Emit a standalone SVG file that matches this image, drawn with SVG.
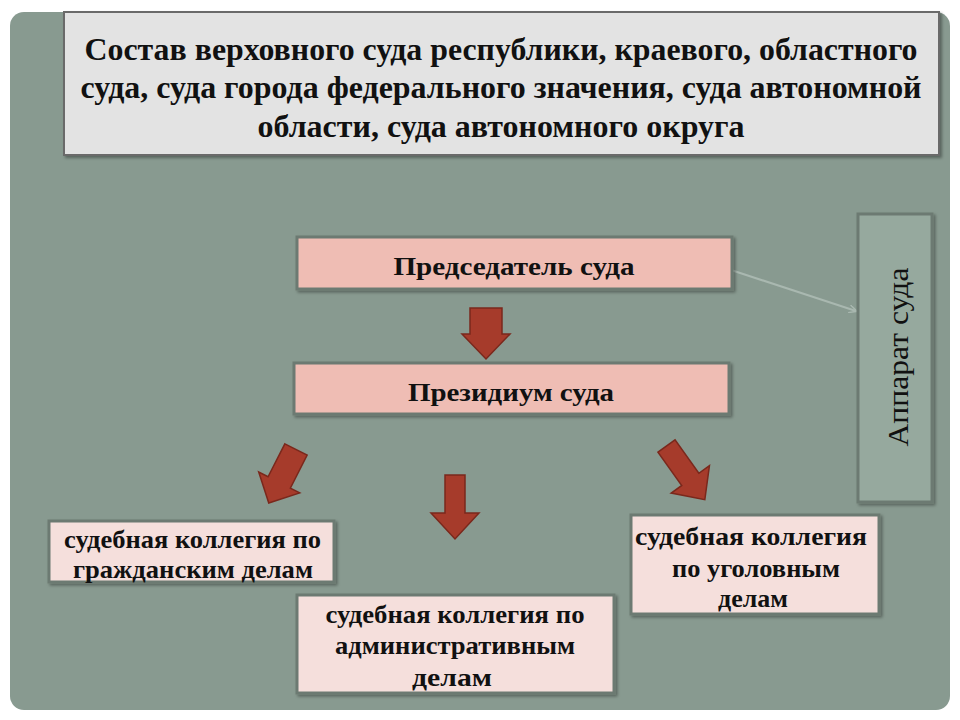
<svg xmlns="http://www.w3.org/2000/svg" width="960" height="720" viewBox="0 0 960 720">
<style>
.t{font-family:"Liberation Serif","Times New Roman",serif;font-weight:bold;fill:#111;text-anchor:middle}
.node{stroke:#6c7a72;stroke-width:3}
.pink{fill:#efbdb4}
.light{fill:#f5dfdc}
.arr{fill:#a63b2b;stroke:#7a281c;stroke-width:1.5;stroke-linejoin:miter}
</style>
<defs>
<marker id="gh" markerWidth="8" markerHeight="8" refX="7" refY="4" orient="auto" markerUnits="userSpaceOnUse">
<path d="M0,0 L8,4 L0,8" fill="none" stroke="#a9b8b0" stroke-width="1.5"/>
</marker>
<filter id="sh" x="-5%" y="-5%" width="115%" height="120%">
<feDropShadow dx="2" dy="2" stdDeviation="1.5" flood-color="#000" flood-opacity="0.35"/>
</filter>
</defs>
<rect width="960" height="720" fill="#ffffff"/>
<rect x="10" y="12" width="940" height="698" rx="14" fill="#889a90"/>

<g id="title">
<rect x="64" y="12" width="875" height="143" fill="#e3e3e3" stroke="#6a6a6a" stroke-width="2" filter="url(#sh)"/>
<text class="t" x="501" y="60" font-size="32" textLength="833" lengthAdjust="spacingAndGlyphs">Состав верховного суда республики, краевого, областного</text>
<text class="t" x="501" y="98" font-size="32" textLength="841" lengthAdjust="spacingAndGlyphs">суда, суда города федерального значения, суда автономной</text>
<text class="t" x="501" y="137" font-size="32" textLength="487" lengthAdjust="spacingAndGlyphs">области, суда автономного округа</text>
</g>

<g id="connectors">
<line x1="731" y1="270" x2="856" y2="311" stroke="#a9b8b0" stroke-width="2" marker-end="url(#gh)"/>
<path class="arr" transform="translate(486,308)" d="M-16,0 L16,0 L16,26 L24,26 L0,51 L-24,26 L-16,26 Z"/>
<path class="arr" transform="translate(296,449.5) rotate(27)" d="M-12.5,0 L12.5,0 L12.5,37 L23,37 L0,60 L-23,37 L-12.5,37 Z"/>
<path class="arr" transform="translate(455,475)" d="M-10,0 L10,0 L10,38 L24,38 L0,64 L-24,38 L-10,38 Z"/>
<path class="arr" transform="translate(666.5,446) rotate(-35.5)" d="M-10.5,0 L10.5,0 L10.5,41 L23.5,41 L0,66 L-23.5,41 L-10.5,41 Z"/>
</g>

<g id="chairman">
<rect class="node pink" x="297" y="237" width="435" height="52" filter="url(#sh)"/>
<text class="t" x="514" y="275" font-size="26" textLength="241" lengthAdjust="spacingAndGlyphs">Председатель суда</text>
</g>

<g id="presidium">
<rect class="node pink" x="294" y="363" width="435" height="51" filter="url(#sh)"/>
<text class="t" x="511" y="401" font-size="26" textLength="206" lengthAdjust="spacingAndGlyphs">Президиум суда</text>
</g>

<g id="apparatus">
<rect x="858" y="214" width="74" height="288" fill="#96a99e" stroke="#6c7a72" stroke-width="3" filter="url(#sh)"/>
<text x="908" y="357" transform="rotate(-90 908 357)" font-family="'Liberation Serif','Times New Roman',serif" font-size="30" fill="#111" text-anchor="middle" textLength="179" lengthAdjust="spacingAndGlyphs">Аппарат суда</text>
</g>

<g id="civil">
<rect class="node light" x="49" y="521" width="285" height="61" filter="url(#sh)"/>
<text class="t" x="192.5" y="548" font-size="25" textLength="257" lengthAdjust="spacingAndGlyphs">судебная коллегия по</text>
<text class="t" x="193" y="578" font-size="25" textLength="240" lengthAdjust="spacingAndGlyphs">гражданским делам</text>
</g>

<g id="admin">
<rect class="node light" x="297" y="595" width="317" height="98" filter="url(#sh)"/>
<text class="t" x="455" y="623" font-size="25" textLength="259" lengthAdjust="spacingAndGlyphs">судебная коллегия по</text>
<text class="t" x="455" y="654" font-size="25" textLength="240" lengthAdjust="spacingAndGlyphs">административным</text>
<text class="t" x="452" y="686" font-size="25" textLength="80" lengthAdjust="spacingAndGlyphs">делам</text>
</g>

<g id="criminal">
<rect class="node light" x="631" y="515" width="248" height="99" filter="url(#sh)"/>
<text class="t" x="751" y="545" font-size="25" textLength="232" lengthAdjust="spacingAndGlyphs">судебная коллегия</text>
<text class="t" x="756" y="577" font-size="25" textLength="168" lengthAdjust="spacingAndGlyphs">по уголовным</text>
<text class="t" x="753" y="607" font-size="25" textLength="70" lengthAdjust="spacingAndGlyphs">делам</text>
</g>
</svg>
